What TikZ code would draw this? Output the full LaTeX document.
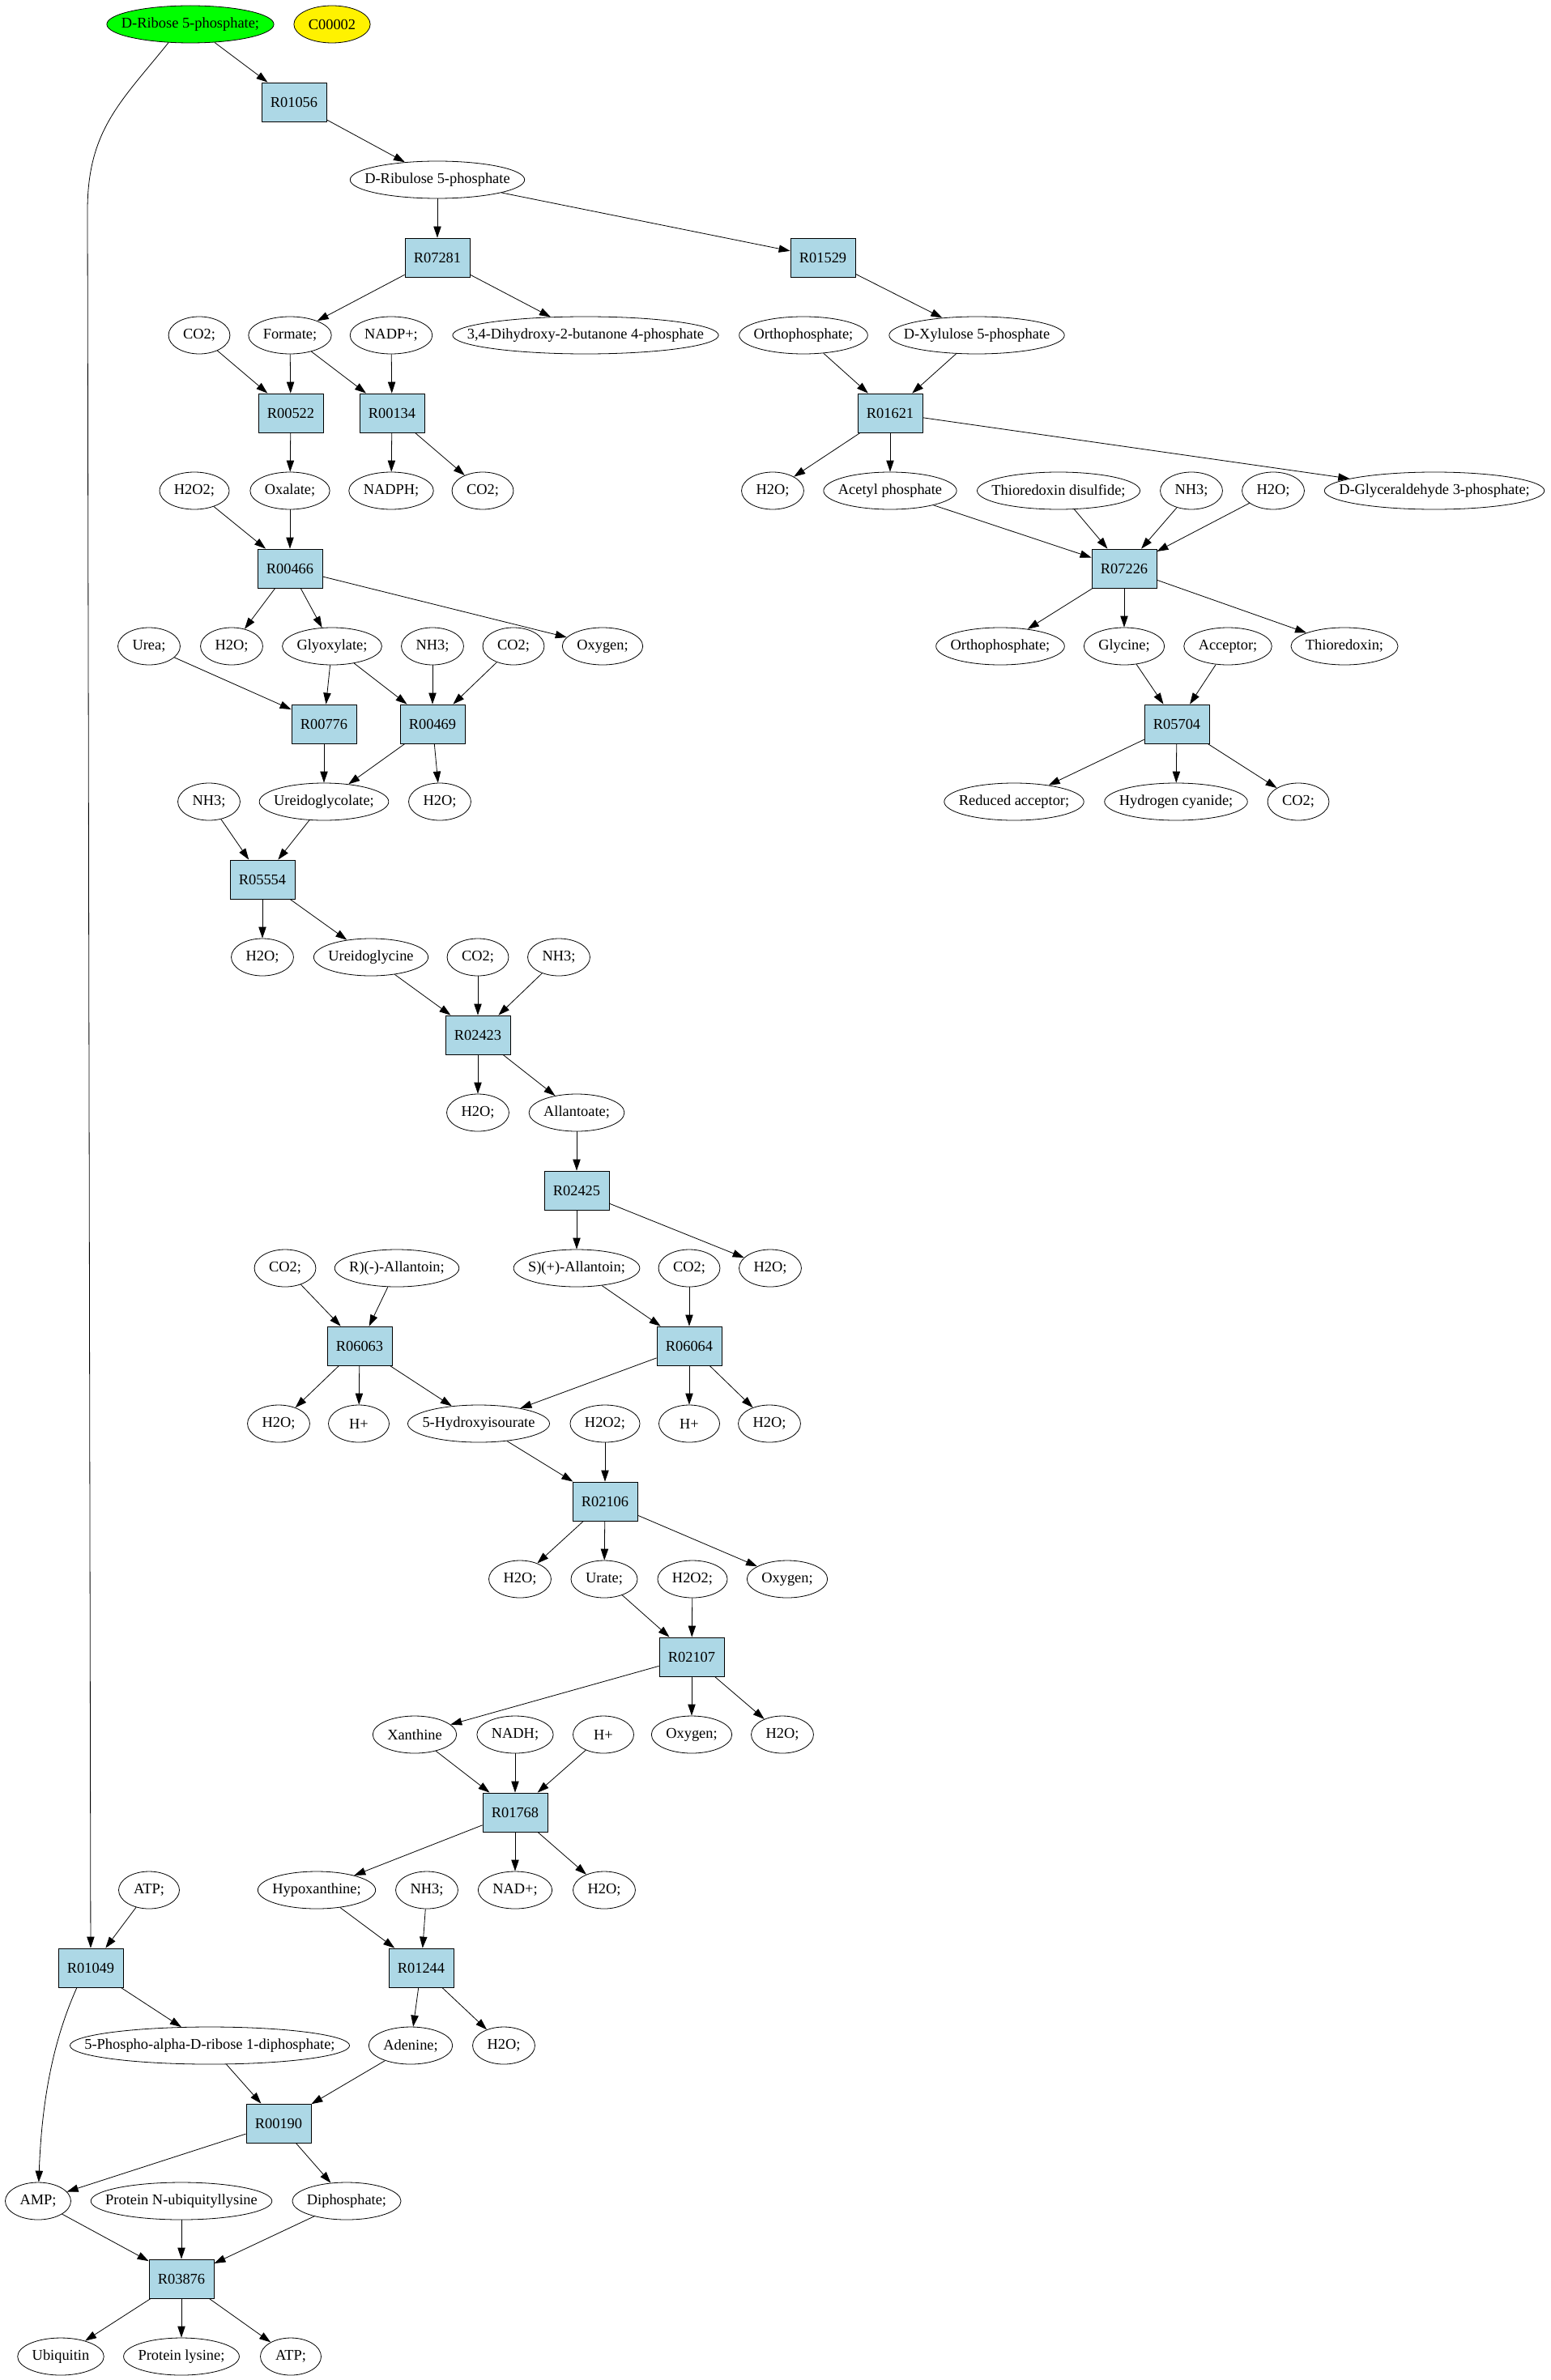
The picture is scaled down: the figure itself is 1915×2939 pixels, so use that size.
\documentclass[tikz,border=0pt]{standalone}
\usepackage{fontspec}
\setmainfont{Liberation Serif}
\usetikzlibrary{shapes.geometric, arrows.meta}
\definecolor{rxnblue}{HTML}{ADD8E6}

\begin{document}
\begin{tikzpicture}[x=0.75pt, y=-0.75pt,
    cpd/.style={ellipse, draw, line width=0.6pt, font=\fontsize{13.8}{16}\selectfont,
      inner ysep=0pt, inner xsep={9.546pt-0.1464*\wd\pgfnodeparttextbox},
      minimum width=56.25pt, minimum height=34.5pt},
    rxn/.style={rectangle, draw, fill=rxnblue, line width=0.6pt, font=\fontsize{13.8}{16}\selectfont,
      inner sep=0pt, minimum width=60pt, minimum height=36pt},
    link/.style={-{Triangle[length=10.5pt, width=7pt]}, line width=0.6pt}]
  % page
  \fill [white] (0, 0) rectangle (1915, 2939);
  % start compounds
  \node [cpd, fill=green] (ribose) at (235, 30) {D-Ribose 5-phosphate;};
  \node [cpd, fill=yellow] (c00002) at (410, 30) {C00002};
  % pentose branch
  \node [rxn] (r01056) at (363, 126) {R01056};
  \node [cpd] (ribulose) at (540, 222) {D-Ribulose 5-phosphate};
  \node [rxn] (r07281) at (540, 318) {R07281};
  \node [rxn] (r01529) at (1016, 318) {R01529};
  \node [cpd] (co2a) at (246, 414) {CO2;};
  \node [cpd] (formate) at (358, 414) {Formate;};
  \node [cpd] (nadp) at (483, 414) {NADP+;};
  \node [cpd] (dihydroxy) at (723, 414) {3,4-Dihydroxy-2-butanone 4-phosphate};
  \node [cpd] (orthoa) at (992, 414) {Orthophosphate;};
  \node [cpd] (xylulose) at (1206, 414) {D-Xylulose 5-phosphate};
  \node [rxn] (r00522) at (359, 510) {R00522};
  \node [rxn] (r00134) at (484, 510) {R00134};
  \node [rxn] (r01621) at (1099, 510) {R01621};
  \node [cpd] (h2o2a) at (240, 606) {H2O2;};
  \node [cpd] (oxalate) at (358, 606) {Oxalate;};
  \node [cpd] (nadph) at (483, 606) {NADPH;};
  \node [cpd] (co2b) at (596, 606) {CO2;};
  \node [cpd] (h2oa) at (954, 606) {H2O;};
  \node [cpd] (acetylp) at (1099, 606) {Acetyl phosphate};
  \node [cpd] (thiodis) at (1307, 606) {Thioredoxin disulfide;};
  \node [cpd] (nh3a) at (1471, 606) {NH3;};
  \node [cpd] (h2ob) at (1572, 606) {H2O;};
  \node [cpd] (glyald) at (1771, 606) {D-Glyceraldehyde 3-phosphate;};
  \node [rxn] (r00466) at (358, 702) {R00466};
  \node [rxn] (r07226) at (1388, 702) {R07226};
  \node [cpd] (urea) at (184, 798) {Urea;};
  \node [cpd] (h2oc) at (286, 798) {H2O;};
  \node [cpd] (glyox) at (410, 798) {Glyoxylate;};
  \node [cpd] (nh3b) at (534, 798) {NH3;};
  \node [cpd] (co2c) at (634, 798) {CO2;};
  \node [cpd] (oxya) at (744, 798) {Oxygen;};
  \node [cpd] (orthob) at (1235, 798) {Orthophosphate;};
  \node [cpd] (glycine) at (1388, 798) {Glycine;};
  \node [cpd] (acceptor) at (1516, 798) {Acceptor;};
  \node [cpd] (thio) at (1660, 798) {Thioredoxin;};
  \node [rxn] (r00776) at (400, 894) {R00776};
  \node [rxn] (r00469) at (534, 894) {R00469};
  \node [rxn] (r05704) at (1453, 894) {R05704};
  \node [cpd] (nh3c) at (258, 990) {NH3;};
  \node [cpd] (ureidoglycolate) at (400, 990) {Ureidoglycolate;};
  \node [cpd] (h2od) at (543, 990) {H2O;};
  \node [cpd] (redacc) at (1252, 990) {Reduced acceptor;};
  \node [cpd] (hcn) at (1452, 990) {Hydrogen cyanide;};
  \node [cpd] (co2d) at (1603, 990) {CO2;};
  % purine degradation
  \node [rxn] (r05554) at (324, 1086) {R05554};
  \node [cpd] (h2oe) at (324, 1182) {H2O;};
  \node [cpd] (ureidoglycine) at (458, 1182) {Ureidoglycine};
  \node [cpd] (co2e) at (590, 1182) {CO2;};
  \node [cpd] (nh3d) at (690, 1182) {NH3;};
  \node [rxn] (r02423) at (590, 1278) {R02423};
  \node [cpd] (h2of) at (590, 1374) {H2O;};
  \node [cpd] (allantoate) at (712, 1374) {Allantoate;};
  \node [rxn] (r02425) at (712, 1470) {R02425};
  \node [cpd] (co2f) at (352, 1566) {CO2;};
  \node [cpd] (rallantoin) at (490, 1566) {R)(-)-Allantoin;};
  \node [cpd] (sallantoin) at (712, 1566) {S)(+)-Allantoin;};
  \node [cpd] (co2g) at (851, 1566) {CO2;};
  \node [cpd] (h2og) at (951, 1566) {H2O;};
  \node [rxn] (r06063) at (444, 1662) {R06063};
  \node [rxn] (r06064) at (851, 1662) {R06064};
  \node [cpd] (h2oh) at (344, 1758) {H2O;};
  \node [cpd] (hpa) at (443, 1758) {H+};
  \node [cpd] (hydroxy) at (591, 1758) {5-Hydroxyisourate};
  \node [cpd] (h2o2b) at (747, 1758) {H2O2;};
  \node [cpd] (hpb) at (851, 1758) {H+};
  \node [cpd] (h2oi) at (950, 1758) {H2O;};
  \node [rxn] (r02106) at (747, 1854) {R02106};
  \node [cpd] (h2oj) at (642, 1950) {H2O;};
  \node [cpd] (urate) at (746, 1950) {Urate;};
  \node [cpd] (h2o2c) at (855, 1950) {H2O2;};
  \node [cpd] (oxyb) at (972, 1950) {Oxygen;};
  \node [rxn] (r02107) at (854, 2046) {R02107};
  \node [cpd] (xanthine) at (512, 2142) {Xanthine};
  \node [cpd] (nadh) at (636, 2142) {NADH;};
  \node [cpd] (hpc) at (745, 2142) {H+};
  \node [cpd] (oxyc) at (854, 2142) {Oxygen;};
  \node [cpd] (h2ok) at (966, 2142) {H2O;};
  \node [rxn] (r01768) at (636, 2238) {R01768};
  \node [cpd] (atpa) at (184, 2334) {ATP;};
  \node [cpd] (hypox) at (391, 2334) {Hypoxanthine;};
  \node [cpd] (nh3e) at (527, 2334) {NH3;};
  \node [cpd] (nad) at (636, 2334) {NAD+;};
  \node [cpd] (h2ol) at (746, 2334) {H2O;};
  % salvage and ubiquitin
  \node [rxn] (r01049) at (112, 2430) {R01049};
  \node [rxn] (r01244) at (520, 2430) {R01244};
  \node [cpd] (prpp) at (259, 2526) {5-Phospho-alpha-D-ribose 1-diphosphate;};
  \node [cpd] (adenine) at (507, 2526) {Adenine;};
  \node [cpd] (h2om) at (622, 2526) {H2O;};
  \node [rxn] (r00190) at (344, 2622) {R00190};
  \node [cpd] (amp) at (47, 2718) {AMP;};
  \node [cpd] (ubly) at (224, 2718) {Protein N-ubiquityllysine};
  \node [cpd] (diphos) at (428, 2718) {Diphosphate;};
  \node [rxn] (r03876) at (224, 2814) {R03876};
  \node [cpd] (ubiquitin) at (75, 2910) {Ubiquitin};
  \node [cpd] (lysine) at (224, 2910) {Protein lysine;};
  \node [cpd] (atpb) at (359, 2910) {ATP;};
  % long edges down the left side
  \coordinate (leftbend) at (108, 260);
  \draw [link] (ribose.220) .. controls (150, 125) and (108, 160) .. (leftbend) -- (r01049);
  \draw [link] (r01049.235) .. controls (70, 2510) and (52, 2580) .. (amp);
  % edges, top part
  \draw [link] (ribose) -- (r01056);
  \draw [link] (r01056) -- (ribulose);
  \draw [link] (ribulose) -- (r07281);
  \draw [link] (ribulose) -- (r01529);
  \draw [link] (r07281) -- (formate);
  \draw [link] (r07281) -- (dihydroxy);
  \draw [link] (r01529) -- (xylulose);
  \draw [link] (co2a) -- (r00522);
  \draw [link] (formate) -- (r00522);
  \draw [link] (formate) -- (r00134);
  \draw [link] (nadp) -- (r00134);
  \draw [link] (orthoa) -- (r01621);
  \draw [link] (xylulose) -- (r01621);
  \draw [link] (r00522) -- (oxalate);
  \draw [link] (r00134) -- (nadph);
  \draw [link] (r00134) -- (co2b);
  \draw [link] (r01621) -- (h2oa);
  \draw [link] (r01621) -- (acetylp);
  \draw [link] (r01621) -- (glyald);
  \draw [link] (h2o2a) -- (r00466);
  \draw [link] (oxalate) -- (r00466);
  \draw [link] (acetylp) -- (r07226);
  \draw [link] (thiodis) -- (r07226);
  \draw [link] (nh3a) -- (r07226);
  \draw [link] (h2ob) -- (r07226);
  \draw [link] (r00466) -- (h2oc);
  \draw [link] (r00466) -- (glyox);
  \draw [link] (r00466) -- (oxya);
  \draw [link] (r07226) -- (orthob);
  \draw [link] (r07226) -- (glycine);
  \draw [link] (r07226) -- (thio);
  \draw [link] (urea) -- (r00776);
  \draw [link] (glyox) -- (r00776);
  \draw [link] (glyox) -- (r00469);
  \draw [link] (nh3b) -- (r00469);
  \draw [link] (co2c) -- (r00469);
  \draw [link] (glycine) -- (r05704);
  \draw [link] (acceptor) -- (r05704);
  \draw [link] (r00776) -- (ureidoglycolate);
  \draw [link] (r00469) -- (ureidoglycolate);
  \draw [link] (r00469) -- (h2od);
  \draw [link] (r05704) -- (redacc);
  \draw [link] (r05704) -- (hcn);
  \draw [link] (r05704) -- (co2d);
  % edges, middle part
  \draw [link] (nh3c) -- (r05554);
  \draw [link] (ureidoglycolate) -- (r05554);
  \draw [link] (r05554) -- (h2oe);
  \draw [link] (r05554) -- (ureidoglycine);
  \draw [link] (ureidoglycine) -- (r02423);
  \draw [link] (co2e) -- (r02423);
  \draw [link] (nh3d) -- (r02423);
  \draw [link] (r02423) -- (h2of);
  \draw [link] (r02423) -- (allantoate);
  \draw [link] (allantoate) -- (r02425);
  \draw [link] (r02425) -- (sallantoin);
  \draw [link] (r02425) -- (h2og);
  \draw [link] (co2f) -- (r06063);
  \draw [link] (rallantoin) -- (r06063);
  \draw [link] (sallantoin) -- (r06064);
  \draw [link] (co2g) -- (r06064);
  \draw [link] (r06063) -- (h2oh);
  \draw [link] (r06063) -- (hpa);
  \draw [link] (r06063) -- (hydroxy);
  \draw [link] (r06064) -- (hydroxy);
  \draw [link] (r06064) -- (hpb);
  \draw [link] (r06064) -- (h2oi);
  \draw [link] (hydroxy) -- (r02106);
  \draw [link] (h2o2b) -- (r02106);
  \draw [link] (r02106) -- (h2oj);
  \draw [link] (r02106) -- (urate);
  \draw [link] (r02106) -- (oxyb);
  \draw [link] (urate) -- (r02107);
  \draw [link] (h2o2c) -- (r02107);
  \draw [link] (r02107) -- (xanthine);
  \draw [link] (r02107) -- (oxyc);
  \draw [link] (r02107) -- (h2ok);
  \draw [link] (xanthine) -- (r01768);
  \draw [link] (nadh) -- (r01768);
  \draw [link] (hpc) -- (r01768);
  \draw [link] (r01768) -- (hypox);
  \draw [link] (r01768) -- (nad);
  \draw [link] (r01768) -- (h2ol);
  % edges, bottom part
  \draw [link] (atpa) -- (r01049);
  \draw [link] (hypox) -- (r01244);
  \draw [link] (nh3e) -- (r01244);
  \draw [link] (r01049) -- (prpp);
  \draw [link] (r01244) -- (adenine);
  \draw [link] (r01244) -- (h2om);
  \draw [link] (prpp) -- (r00190);
  \draw [link] (adenine) -- (r00190);
  \draw [link] (r00190) -- (amp);
  \draw [link] (r00190) -- (diphos);
  \draw [link] (amp) -- (r03876);
  \draw [link] (ubly) -- (r03876);
  \draw [link] (diphos) -- (r03876);
  \draw [link] (r03876) -- (ubiquitin);
  \draw [link] (r03876) -- (lysine);
  \draw [link] (r03876) -- (atpb);
\end{tikzpicture}
\end{document}
